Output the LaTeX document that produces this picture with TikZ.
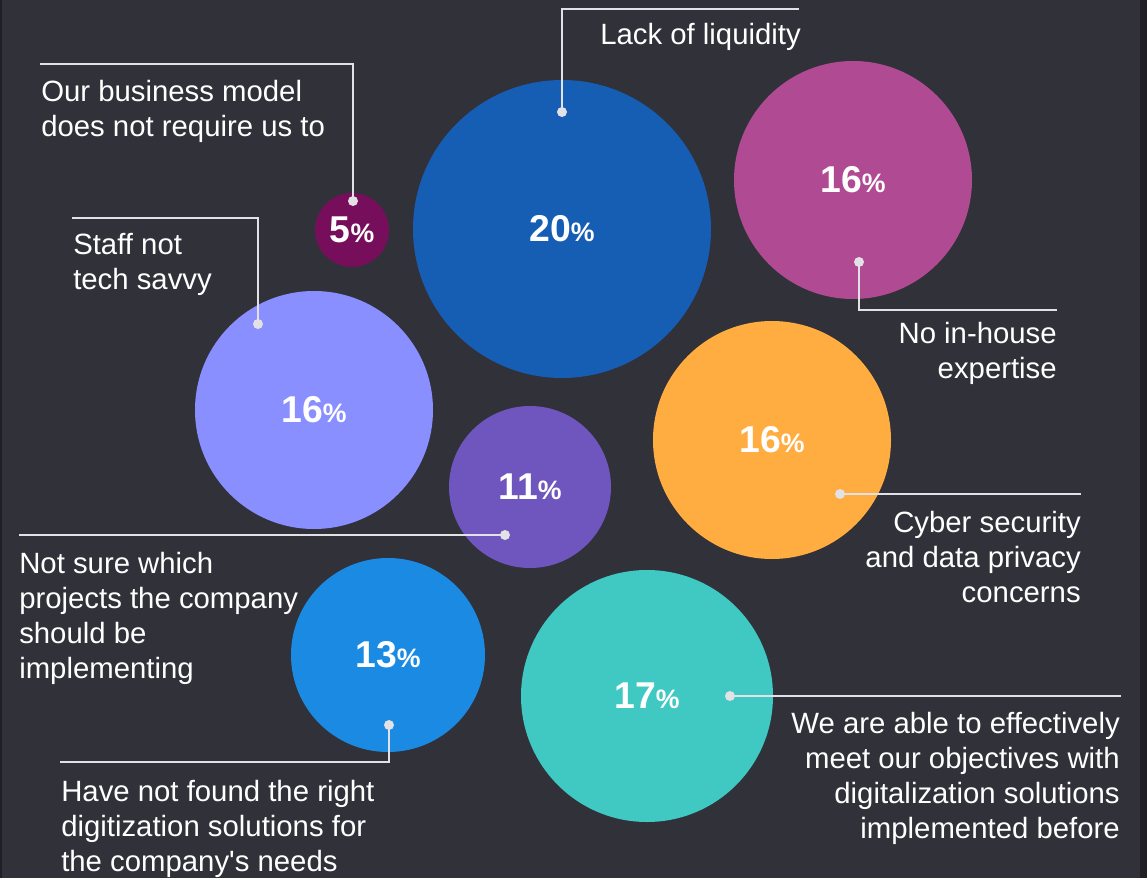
\documentclass[tikz,border=0pt]{standalone}
\usepackage{fontspec}
\setmainfont{Liberation Sans}
\definecolor{bg}{HTML}{313139}
\definecolor{edge}{HTML}{1F1F25}
\definecolor{lead}{HTML}{E2E2E6}
\definecolor{cA}{HTML}{770E5B}
\definecolor{cB}{HTML}{165DB4}
\definecolor{cC}{HTML}{B04A92}
\definecolor{cD}{HTML}{8A8FFF}
\definecolor{cE}{HTML}{6F55BE}
\definecolor{cF}{HTML}{FFAC40}
\definecolor{cG}{HTML}{1A8AE2}
\definecolor{cH}{HTML}{40C9C2}
\newcommand{\pct}[1]{{\fontsize{28}{30}\selectfont\bfseries #1}{\fontsize{20}{22}\selectfont\bfseries\%}}
\tikzset{
  bubble/.style={circle, inner sep=0pt, text=white},
  leaddot/.style={circle, fill=lead, inner sep=0pt, minimum size=7.5pt},
  leader/.style={draw=lead, line width=1.9pt},
  lbl/.style={text=white, inner sep=0pt, font=\fontsize{22}{26.25}\selectfont}
}
\begin{document}
\begin{tikzpicture}[x=0.75pt,y=-0.75pt]
\fill[bg] (0,0) rectangle (1147,878);
\fill[edge] (1140,0) rectangle (1147,878);
\fill[edge] (0,0) rectangle (2,878);
\useasboundingbox (0,0) rectangle (1147,878);

% bubbles
\node[bubble, fill=cA, minimum size=55.5pt] (b5) at (352,230) {\pct{5}};
\node[bubble, fill=cB, minimum size=223.5pt] (b20) at (562,229) {\pct{20}};
\node[bubble, fill=cC, minimum size=178.5pt] (b16a) at (853,180) {\pct{16}};
\node[bubble, fill=cD, minimum size=178.5pt] (b16b) at (314,410) {\pct{16}};
\node[bubble, fill=cE, minimum size=121.5pt] (b11) at (530,487) {\pct{11}};
\node[bubble, fill=cF, minimum size=178.5pt] (b16c) at (772,440) {\pct{16}};
\node[bubble, fill=cG, minimum size=145.5pt] (b13) at (388,655) {\pct{13}};
\node[bubble, fill=cH, minimum size=189pt] (b17) at (647,696) {\pct{17}};

% leader dots
\node[leaddot] (d20) at (562,112) {};
\node[leaddot] (d5) at (353,201) {};
\node[leaddot] (d16b) at (258,324) {};
\node[leaddot] (d16a) at (859,262) {};
\node[leaddot] (d16c) at (840,494) {};
\node[leaddot] (d11) at (505,535) {};
\node[leaddot] (d13) at (389,725) {};
\node[leaddot] (d17) at (730,696) {};

% leader ends
\coordinate (e20) at (799,9);
\coordinate (e5) at (40,64);
\coordinate (e16b) at (72,218);
\coordinate (e16a) at (1057,310);
\coordinate (e16c) at (1081,494);
\coordinate (e11) at (19,535);
\coordinate (e13) at (60,762);
\coordinate (e17) at (1121,696);

\draw[leader] (d20.center) |- (e20);
\draw[leader] (d5.center) |- (e5);
\draw[leader] (d16b.center) |- (e16b);
\draw[leader] (d16a.center) |- (e16a);
\draw[leader] (d16c.center) -- (e16c);
\draw[leader] (d11.center) -- (e11);
\draw[leader] (d13.center) |- (e13);
\draw[leader] (d17.center) -- (e17);

% labels (base anchor = baseline of last line)
\node[lbl, anchor=base west] (t20) at (600,45) {Lack of liquidity};
\node[lbl, anchor=base west, align=left] (t5) at (41,136) {Our business model\\does not require us to};
\node[lbl, anchor=base west, align=left] (t16b) at (73,289) {Staff not\\tech savvy};
\node[lbl, anchor=base east, align=right] (t16a) at (1057,378) {No in-house\\expertise};
\node[lbl, anchor=base east, align=right] (t16c) at (1081,602) {Cyber security\\and data privacy\\concerns};
\node[lbl, anchor=base west, align=left] (t11) at (19,678) {Not sure which\\projects the company\\should be\\implementing};
\node[lbl, anchor=base west, align=left] (t13) at (61,871) {Have not found the right\\digitization solutions for\\the company\textquotesingle s needs};
\node[lbl, anchor=base east, align=right] (t17) at (1120,838) {We are able to effectively\\meet our objectives with\\digitalization solutions\\implemented before};
\end{tikzpicture}
\end{document}
